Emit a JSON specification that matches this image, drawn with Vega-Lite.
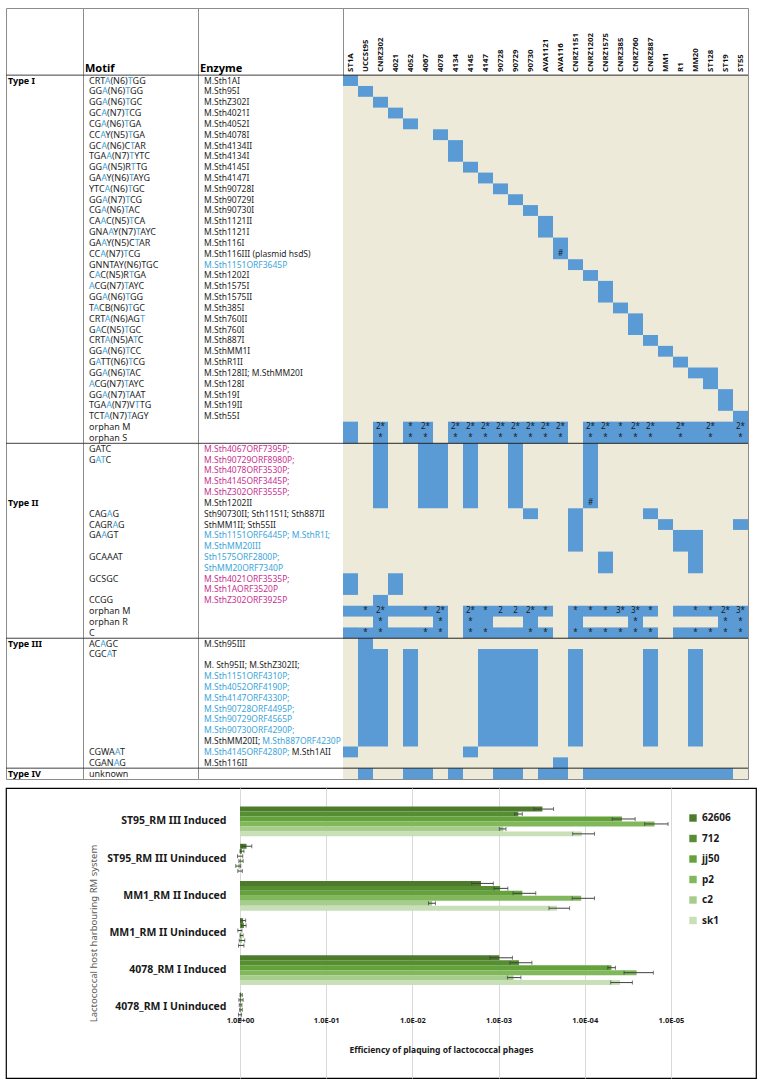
{
"$schema": "https://vega.github.io/schema/vega-lite/v6.json",
"padding": {"left": 5, "top": 7, "right": 4, "bottom": 3},
"background": "white",
"config": {"font": "Noto Sans", "view": {"stroke": "#8c8c8c", "strokeWidth": 1}},
"datasets": {
"bounds": [{"b": 0}, {"b": 34}, {"b": 52}, {"b": 64}],
"types": [{"l": 0, "t": "Type I"}, {"l": 39, "t": "Type II"}, {"l": 52, "t": "Type III"}, {"l": 64, "t": "Type IV"}],
"cols": [{"s":"ST1A"},{"s":"UCCSt95"},{"s":"CNRZ302"},{"s":"4021"},{"s":"4052"},{"s":"4067"},{"s":"4078"},{"s":"4134"},{"s":"4145"},{"s":"4147"},{"s":"90728"},{"s":"90729"},{"s":"90730"},{"s":"AVA1121"},{"s":"AVA116"},{"s":"CNRZ1151"},{"s":"CNRZ1202"},{"s":"CNRZ1575"},{"s":"CNRZ385"},{"s":"CNRZ760"},{"s":"CNRZ887"},{"s":"MM1"},{"s":"R1"},{"s":"MM20"},{"s":"ST128"},{"s":"ST19"},{"s":"ST55"}],
"rows": [
{"l":0,"m":"CRTA(N6)TGG","p1b":"CRT","p1a":"CRTA","p2b":"CRTA(N6)","p2a":"CRTA(N6)T","e":"M.Sth1AI","annot":"known"},
{"l":1,"m":"GGA(N6)TGG","p1b":"GG","p1a":"GGA","p2b":"GGA(N6)","p2a":"GGA(N6)T","e":"M.Sth95I","annot":"known"},
{"l":2,"m":"GGA(N6)TGC","p1b":"GG","p1a":"GGA","p2b":"GGA(N6)","p2a":"GGA(N6)T","e":"M.SthZ302I","annot":"known"},
{"l":3,"m":"GCA(N7)TCG","p1b":"GC","p1a":"GCA","p2b":"GCA(N7)","p2a":"GCA(N7)T","e":"M.Sth4021I","annot":"known"},
{"l":4,"m":"CGA(N6)TGA","p1b":"CG","p1a":"CGA","p2b":"CGA(N6)","p2a":"CGA(N6)T","e":"M.Sth4052I","annot":"known"},
{"l":5,"m":"CCAY(N5)TGA","p1b":"CC","p1a":"CCA","p2b":"CCAY(N5)","p2a":"CCAY(N5)T","e":"M.Sth4078I","annot":"known"},
{"l":6,"m":"GCA(N6)CTAR","p1b":"GC","p1a":"GCA","p2b":"GCA(N6)C","p2a":"GCA(N6)CT","e":"M.Sth4134II","annot":"known"},
{"l":7,"m":"TGAA(N7)TYTC","p1b":"TGA","p1a":"TGAA","p2b":"TGAA(N7)","p2a":"TGAA(N7)T","e":"M.Sth4134I","annot":"known"},
{"l":8,"m":"GGA(N5)RTTG","p1b":"GG","p1a":"GGA","p2b":"GGA(N5)R","p2a":"GGA(N5)RT","e":"M.Sth4145I","annot":"known"},
{"l":9,"m":"GAAY(N6)TAYG","p1b":"GA","p1a":"GAA","p2b":"GAAY(N6)","p2a":"GAAY(N6)T","e":"M.Sth4147I","annot":"known"},
{"l":10,"m":"YTCA(N6)TGC","p1b":"YTC","p1a":"YTCA","p2b":"YTCA(N6)","p2a":"YTCA(N6)T","e":"M.Sth90728I","annot":"known"},
{"l":11,"m":"GGA(N7)TCG","p1b":"GG","p1a":"GGA","p2b":"GGA(N7)","p2a":"GGA(N7)T","e":"M.Sth90729I","annot":"known"},
{"l":12,"m":"CGA(N6)TAC","p1b":"CG","p1a":"CGA","p2b":"CGA(N6)","p2a":"CGA(N6)T","e":"M.Sth90730I","annot":"known"},
{"l":13,"m":"CAAC(N5)TCA","p1b":"CA","p1a":"CAA","p2b":"CAAC(N5)","p2a":"CAAC(N5)T","e":"M.Sth1121II","annot":"known"},
{"l":14,"m":"GNAAY(N7)TAYC","p1b":"GNA","p1a":"GNAA","p2b":"GNAAY(N7)","p2a":"GNAAY(N7)T","e":"M.Sth1121I","annot":"known"},
{"l":15,"m":"GAAY(N5)CTAR","p1b":"GA","p1a":"GAA","p2b":"GAAY(N5)C","p2a":"GAAY(N5)CT","e":"M.Sth116I","annot":"known"},
{"l":16,"m":"CCA(N7)TCG","p1b":"CC","p1a":"CCA","p2b":"CCA(N7)","p2a":"CCA(N7)T","e":"M.Sth116III (plasmid hsdS)","annot":"known"},
{"l":17,"m":"GNNTAY(N6)TGC","e":"M.Sth1151ORF3645P","annot":"orf"},
{"l":18,"m":"CAC(N5)RTGA","p1b":"C","p1a":"CA","p2b":"CAC(N5)R","p2a":"CAC(N5)RT","e":"M.Sth1202I","annot":"known"},
{"l":19,"m":"ACG(N7)TAYC","p1a":"A","p2b":"ACG(N7)","p2a":"ACG(N7)T","e":"M.Sth1575I","annot":"known"},
{"l":20,"m":"GGA(N6)TGG","p1b":"GG","p1a":"GGA","p2b":"GGA(N6)","p2a":"GGA(N6)T","e":"M.Sth1575II","annot":"known"},
{"l":21,"m":"TACB(N6)TGC","p1b":"T","p1a":"TA","p2b":"TACB(N6)","p2a":"TACB(N6)T","e":"M.Sth385I","annot":"known"},
{"l":22,"m":"CRTA(N6)AGT","p1b":"CRT","p1a":"CRTA","p2b":"CRTA(N6)AG","p2a":"CRTA(N6)AGT","e":"M.Sth760II","annot":"known"},
{"l":23,"m":"GAC(N5)TGC","p1b":"G","p1a":"GA","p2b":"GAC(N5)","p2a":"GAC(N5)T","e":"M.Sth760I","annot":"known"},
{"l":24,"m":"CRTA(N5)ATC","p1b":"CRT","p1a":"CRTA","p2b":"CRTA(N5)A","p2a":"CRTA(N5)AT","e":"M.Sth887I","annot":"known"},
{"l":25,"m":"GGA(N6)TCC","p1b":"GG","p1a":"GGA","p2b":"GGA(N6)","p2a":"GGA(N6)T","e":"M.SthMM1I","annot":"known"},
{"l":26,"m":"GATT(N6)TCG","p1b":"G","p1a":"GA","p2b":"GATT(N6)","p2a":"GATT(N6)T","e":"M.SthR1II","annot":"known"},
{"l":27,"m":"GGA(N6)TAC","p1b":"GG","p1a":"GGA","p2b":"GGA(N6)","p2a":"GGA(N6)T","e":"M.Sth128II; M.SthMM20I","annot":"known"},
{"l":28,"m":"ACG(N7)TAYC","p1a":"A","p2b":"ACG(N7)","p2a":"ACG(N7)T","e":"M.Sth128I","annot":"known"},
{"l":29,"m":"GGA(N7)TAAT","p1b":"GG","p1a":"GGA","p2b":"GGA(N7)","p2a":"GGA(N7)T","e":"M.Sth19I","annot":"known"},
{"l":30,"m":"TGAA(N7)VTTG","p1b":"TGA","p1a":"TGAA","p2b":"TGAA(N7)V","p2a":"TGAA(N7)VT","e":"M.Sth19II","annot":"known"},
{"l":31,"m":"TCTA(N7)TAGY","p1b":"TCT","p1a":"TCTA","p2b":"TCTA(N7)","p2a":"TCTA(N7)T","e":"M.Sth55I","annot":"known"},
{"l":32,"m":"orphan M"},
{"l":33,"m":"orphan S"},
{"l":34,"m":"GATC","e":"M.Sth4067ORF7395P;","annot":"orfII"},
{"l":35,"m":"GATC","p1b":"G","p1a":"GA","p2b":"GA","p2a":"GAT","e":"M.Sth90729ORF8980P;","annot":"orfII"},
{"l":36,"e":"M.Sth4078ORF3530P;","annot":"orfII"},
{"l":37,"e":"M.Sth4145ORF3445P;","annot":"orfII"},
{"l":38,"e":"M.SthZ302ORF3555P;","annot":"orfII"},
{"l":39,"e":"M.Sth1202II","annot":"known"},
{"l":40,"m":"CAGAG","p1b":"CAG","p1a":"CAGA","e":"Sth90730II; Sth1151I; Sth887II","annot":"known"},
{"l":41,"m":"CAGRAG","p1b":"CAGR","p1a":"CAGRA","e":"SthMM1II; Sth55II","annot":"known"},
{"l":42,"m":"GAAGT","p1b":"GA","p1a":"GAA","e":"M.Sth1151ORF6445P; M.SthR1I;","annot":"orf"},
{"l":43,"e":"M.SthMM20III","annot":"orf"},
{"l":44,"m":"GCAAAT","e":"Sth1575ORF2800P;","annot":"orf"},
{"l":45,"e":"SthMM20ORF7340P","annot":"orf"},
{"l":46,"m":"GCSGC","e":"M.Sth4021ORF3535P;","annot":"orfII"},
{"l":47,"e":"M.Sth1AORF3520P","annot":"orfII"},
{"l":48,"m":"CCGG","e":"M.SthZ302ORF3925P","annot":"orfII"},
{"l":49,"m":"orphan M"},
{"l":50,"m":"orphan R"},
{"l":51,"m":"C"},
{"l":52,"m":"ACAGC","p1b":"AC","p1a":"ACA","e":"M.Sth95III","annot":"known"},
{"l":53,"m":"CGCAT","p1b":"CGC","p1a":"CGCA"},
{"l":54,"e":"M. Sth95II; M.SthZ302II;","annot":"known"},
{"l":55,"e":"M.Sth1151ORF4310P;","annot":"orf"},
{"l":56,"e":"M.Sth4052ORF4190P;","annot":"orf"},
{"l":57,"e":"M.Sth4147ORF4330P;","annot":"orf"},
{"l":58,"e":"M.Sth90728ORF4495P;","annot":"orf"},
{"l":59,"e":"M.Sth90729ORF4565P","annot":"orf"},
{"l":60,"e":"M.Sth90730ORF4290P;","annot":"orf"},
{"l":61,"e":"M.SthMM20II; M.Sth887ORF4230P","annot":"orf","eo":"M.SthMM20II;","eoa":"known"},
{"l":62,"m":"CGWAAT","p1b":"CGWA","p1a":"CGWAA","e":"M.Sth4145ORF4280P; M.Sth1AII","annot":"known","eo":"M.Sth4145ORF4280P;","eoa":"orf"},
{"l":63,"m":"CGANAG","p1b":"CGAN","p1a":"CGANA","e":"M.Sth116II","annot":"known"},
{"l":64,"m":"unknown"}
],
"cells": [
{"s":"ST1A","a":0,"b":1},{"s":"UCCSt95","a":1,"b":2},{"s":"CNRZ302","a":2,"b":3},{"s":"4021","a":3,"b":4},{"s":"4052","a":4,"b":5},{"s":"4078","a":5,"b":6},{"s":"4134","a":6,"b":8},{"s":"4145","a":8,"b":9},{"s":"4147","a":9,"b":10},{"s":"90728","a":10,"b":11},{"s":"90729","a":11,"b":12},{"s":"90730","a":12,"b":13},{"s":"AVA1121","a":13,"b":15},{"s":"AVA116","a":15,"b":17},{"s":"CNRZ1151","a":17,"b":18},{"s":"CNRZ1202","a":18,"b":19},{"s":"CNRZ1575","a":19,"b":21},{"s":"CNRZ385","a":21,"b":22},{"s":"CNRZ760","a":22,"b":24},{"s":"CNRZ887","a":24,"b":25},{"s":"MM1","a":25,"b":26},{"s":"R1","a":26,"b":27},{"s":"MM20","a":27,"b":28},{"s":"ST128","a":27,"b":29},{"s":"ST19","a":29,"b":31},{"s":"ST55","a":31,"b":34},
{"s":"ST1A","a":32,"b":34},{"s":"4052","a":32,"b":34},{"s":"4134","a":32,"b":34},{"s":"4147","a":32,"b":34},{"s":"90728","a":32,"b":34},{"s":"90730","a":32,"b":34},{"s":"AVA1121","a":32,"b":34},{"s":"AVA116","a":32,"b":34},{"s":"CNRZ1575","a":32,"b":34},{"s":"CNRZ385","a":32,"b":34},{"s":"CNRZ760","a":32,"b":34},{"s":"CNRZ887","a":32,"b":34},{"s":"MM1","a":32,"b":34},{"s":"R1","a":32,"b":34},{"s":"MM20","a":32,"b":34},{"s":"ST128","a":32,"b":34},{"s":"ST19","a":32,"b":34},
{"s":"CNRZ302","a":32,"b":40},{"s":"4067","a":32,"b":40},{"s":"4145","a":32,"b":40},{"s":"90729","a":32,"b":40},{"s":"CNRZ1202","a":32,"b":40},{"s":"4078","a":34,"b":40},
{"s":"90730","a":40,"b":41},{"s":"CNRZ887","a":40,"b":41},{"s":"CNRZ1151","a":40,"b":44},{"s":"MM1","a":41,"b":42},{"s":"ST55","a":41,"b":42},{"s":"R1","a":42,"b":44},{"s":"MM20","a":42,"b":46},{"s":"CNRZ1575","a":44,"b":46},{"s":"ST1A","a":46,"b":48},{"s":"4021","a":46,"b":48},{"s":"CNRZ302","a":48,"b":52},
{"s":"ST1A","a":49,"b":50},{"s":"ST1A","a":51,"b":52},{"s":"UCCSt95","a":49,"b":50},{"s":"UCCSt95","a":51,"b":62},{"s":"4021","a":49,"b":50},{"s":"4021","a":51,"b":52},{"s":"4052","a":49,"b":50},{"s":"4052","a":51,"b":52},{"s":"4067","a":49,"b":50},{"s":"4067","a":51,"b":52},{"s":"4078","a":49,"b":52},{"s":"4145","a":49,"b":52},{"s":"4147","a":49,"b":52},{"s":"90728","a":49,"b":50},{"s":"90728","a":51,"b":52},{"s":"90729","a":49,"b":50},{"s":"90729","a":51,"b":52},{"s":"90730","a":49,"b":52},{"s":"AVA1121","a":49,"b":50},{"s":"AVA1121","a":51,"b":52},{"s":"CNRZ1151","a":49,"b":52},{"s":"CNRZ1202","a":49,"b":50},{"s":"CNRZ1202","a":51,"b":52},{"s":"CNRZ1575","a":49,"b":50},{"s":"CNRZ1575","a":51,"b":52},{"s":"CNRZ385","a":49,"b":50},{"s":"CNRZ385","a":51,"b":52},{"s":"CNRZ760","a":49,"b":52},{"s":"CNRZ887","a":49,"b":50},{"s":"CNRZ887","a":51,"b":52},{"s":"R1","a":49,"b":50},{"s":"R1","a":51,"b":52},{"s":"MM20","a":49,"b":50},{"s":"MM20","a":51,"b":52},{"s":"ST128","a":49,"b":50},{"s":"ST128","a":51,"b":52},{"s":"ST19","a":49,"b":52},{"s":"ST55","a":49,"b":52},
{"s":"CNRZ302","a":53,"b":62},{"s":"4052","a":53,"b":62},{"s":"4147","a":53,"b":62},{"s":"90728","a":53,"b":62},{"s":"90729","a":53,"b":62},{"s":"90730","a":53,"b":62},{"s":"CNRZ1151","a":53,"b":62},{"s":"CNRZ887","a":53,"b":62},{"s":"MM20","a":53,"b":62},
{"s":"ST1A","a":62,"b":63},{"s":"4145","a":62,"b":63},{"s":"AVA116","a":63,"b":65},
{"s":"UCCSt95","a":64,"b":65},{"s":"4052","a":64,"b":65},{"s":"4067","a":64,"b":65},{"s":"4134","a":64,"b":65},{"s":"90728","a":64,"b":65},{"s":"90729","a":64,"b":65},{"s":"AVA1121","a":64,"b":65},{"s":"CNRZ1202","a":64,"b":65},{"s":"CNRZ1575","a":64,"b":65},{"s":"CNRZ385","a":64,"b":65},{"s":"CNRZ760","a":64,"b":65},{"s":"CNRZ887","a":64,"b":65},{"s":"MM1","a":64,"b":65},{"s":"R1","a":64,"b":65},{"s":"MM20","a":64,"b":65},{"s":"ST128","a":64,"b":65},{"s":"ST19","a":64,"b":65}
],
"marks": [
{"s":"CNRZ302","l":32,"t":"2*"},{"s":"4052","l":32,"t":"*"},{"s":"4067","l":32,"t":"2*"},{"s":"4134","l":32,"t":"2*"},{"s":"4145","l":32,"t":"2*"},{"s":"4147","l":32,"t":"2*"},{"s":"90728","l":32,"t":"2*"},{"s":"90729","l":32,"t":"2*"},{"s":"90730","l":32,"t":"2*"},{"s":"AVA1121","l":32,"t":"2*"},{"s":"AVA116","l":32,"t":"2*"},{"s":"CNRZ1202","l":32,"t":"2*"},{"s":"CNRZ1575","l":32,"t":"2*"},{"s":"CNRZ385","l":32,"t":"*"},{"s":"CNRZ760","l":32,"t":"2*"},{"s":"CNRZ887","l":32,"t":"2*"},{"s":"R1","l":32,"t":"2*"},{"s":"ST128","l":32,"t":"2*"},{"s":"ST55","l":32,"t":"2*"},
{"s":"CNRZ302","l":33,"t":"*"},{"s":"4052","l":33,"t":"*"},{"s":"4067","l":33,"t":"*"},{"s":"4134","l":33,"t":"*"},{"s":"4145","l":33,"t":"*"},{"s":"4147","l":33,"t":"*"},{"s":"90728","l":33,"t":"*"},{"s":"90729","l":33,"t":"*"},{"s":"90730","l":33,"t":"*"},{"s":"AVA1121","l":33,"t":"*"},{"s":"AVA116","l":33,"t":"*"},{"s":"CNRZ1202","l":33,"t":"*"},{"s":"CNRZ1575","l":33,"t":"*"},{"s":"CNRZ385","l":33,"t":"*"},{"s":"CNRZ760","l":33,"t":"*"},{"s":"CNRZ887","l":33,"t":"*"},{"s":"R1","l":33,"t":"*"},{"s":"ST128","l":33,"t":"*"},{"s":"ST55","l":33,"t":"*"},
{"s":"AVA116","l":16,"t":"#"},{"s":"CNRZ1202","l":39,"t":"#"},
{"s":"UCCSt95","l":49,"t":"*"},{"s":"CNRZ302","l":49,"t":"2*"},{"s":"4067","l":49,"t":"*"},{"s":"4078","l":49,"t":"2*"},{"s":"4145","l":49,"t":"2*"},{"s":"4147","l":49,"t":"*"},{"s":"90728","l":49,"t":"2"},{"s":"90729","l":49,"t":"2"},{"s":"90730","l":49,"t":"2*"},{"s":"AVA1121","l":49,"t":"*"},{"s":"CNRZ1151","l":49,"t":"*"},{"s":"CNRZ1202","l":49,"t":"*"},{"s":"CNRZ1575","l":49,"t":"*"},{"s":"CNRZ385","l":49,"t":"3*"},{"s":"CNRZ760","l":49,"t":"3*"},{"s":"CNRZ887","l":49,"t":"*"},{"s":"MM20","l":49,"t":"*"},{"s":"ST128","l":49,"t":"*"},{"s":"ST19","l":49,"t":"2*"},{"s":"ST55","l":49,"t":"3*"},
{"s":"CNRZ302","l":50,"t":"*"},{"s":"4078","l":50,"t":"*"},{"s":"4145","l":50,"t":"*"},{"s":"CNRZ760","l":50,"t":"*"},{"s":"ST19","l":50,"t":"*"},{"s":"ST55","l":50,"t":"*"},
{"s":"UCCSt95","l":51,"t":"*"},{"s":"CNRZ302","l":51,"t":"*"},{"s":"4067","l":51,"t":"*"},{"s":"4078","l":51,"t":"*"},{"s":"4145","l":51,"t":"*"},{"s":"4147","l":51,"t":"*"},{"s":"90730","l":51,"t":"*"},{"s":"AVA1121","l":51,"t":"*"},{"s":"CNRZ1151","l":51,"t":"*"},{"s":"CNRZ1202","l":51,"t":"*"},{"s":"CNRZ1575","l":51,"t":"*"},{"s":"CNRZ385","l":51,"t":"*"},{"s":"CNRZ760","l":51,"t":"*"},{"s":"CNRZ887","l":51,"t":"*"},{"s":"MM20","l":51,"t":"*"},{"s":"ST128","l":51,"t":"*"},{"s":"ST19","l":51,"t":"*"},{"s":"ST55","l":51,"t":"*"}
],
"eop": [
{"host":"ST95_RM III Induced","phage":"62606","v":3.1e-4,"lo":2.3e-4,"hi":3.9e-4},
{"host":"ST95_RM III Induced","phage":"712","v":5.9e-4,"lo":5.3e-4,"hi":6.5e-4},
{"host":"ST95_RM III Induced","phage":"jj50","v":3.7e-5,"lo":2.6e-5,"hi":4.8e-5},
{"host":"ST95_RM III Induced","phage":"p2","v":1.55e-5,"lo":1.08e-5,"hi":2.02e-5},
{"host":"ST95_RM III Induced","phage":"c2","v":8.8e-4,"lo":8.2e-4,"hi":9.8e-4},
{"host":"ST95_RM III Induced","phage":"sk1","v":1.08e-4,"lo":7.7e-5,"hi":1.38e-4},
{"host":"ST95_RM III Uninduced","phage":"62606","v":0.84,"lo":0.73,"hi":0.95},
{"host":"ST95_RM III Uninduced","phage":"712","v":0.95,"lo":0.9,"hi":1.0},
{"host":"ST95_RM III Uninduced","phage":"jj50","v":1.0,"lo":0.93,"hi":1.07},
{"host":"ST95_RM III Uninduced","phage":"p2","v":0.97,"lo":0.92,"hi":1.03},
{"host":"ST95_RM III Uninduced","phage":"c2","v":1.05,"lo":0.98,"hi":1.12},
{"host":"ST95_RM III Uninduced","phage":"sk1","v":1.0,"lo":0.94,"hi":1.06},
{"host":"MM1_RM II Induced","phage":"62606","v":1.6e-3,"lo":1.15e-3,"hi":2.05e-3},
{"host":"MM1_RM II Induced","phage":"712","v":9.6e-4,"lo":7.8e-4,"hi":1.13e-3},
{"host":"MM1_RM II Induced","phage":"jj50","v":5.3e-4,"lo":3.7e-4,"hi":6.8e-4},
{"host":"MM1_RM II Induced","phage":"p2","v":1.1e-4,"lo":7.7e-5,"hi":1.4e-4},
{"host":"MM1_RM II Induced","phage":"c2","v":5.9e-3,"lo":5.4e-3,"hi":6.5e-3},
{"host":"MM1_RM II Induced","phage":"sk1","v":2.1e-4,"lo":1.5e-4,"hi":2.6e-4},
{"host":"MM1_RM II Uninduced","phage":"62606","v":0.92,"lo":0.86,"hi":0.98},
{"host":"MM1_RM II Uninduced","phage":"712","v":0.9,"lo":0.85,"hi":0.96},
{"host":"MM1_RM II Uninduced","phage":"jj50","v":1.0,"lo":0.95,"hi":1.06},
{"host":"MM1_RM II Uninduced","phage":"p2","v":0.96,"lo":0.92,"hi":1.0},
{"host":"MM1_RM II Uninduced","phage":"c2","v":0.95,"lo":0.88,"hi":1.02},
{"host":"MM1_RM II Uninduced","phage":"sk1","v":0.97,"lo":0.9,"hi":1.04},
{"host":"4078_RM I Induced","phage":"62606","v":9.8e-4,"lo":6.9e-4,"hi":1.26e-3},
{"host":"4078_RM I Induced","phage":"712","v":5.8e-4,"lo":4.1e-4,"hi":7.4e-4},
{"host":"4078_RM I Induced","phage":"jj50","v":4.9e-5,"lo":4.4e-5,"hi":5.4e-5},
{"host":"4078_RM I Induced","phage":"p2","v":2.5e-5,"lo":1.6e-5,"hi":3.5e-5},
{"host":"4078_RM I Induced","phage":"c2","v":6.7e-4,"lo":5.5e-4,"hi":7.9e-4},
{"host":"4078_RM I Induced","phage":"sk1","v":3.9e-5,"lo":2.8e-5,"hi":5.0e-5},
{"host":"4078_RM I Uninduced","phage":"62606","v":0.97,"lo":0.94,"hi":1.0},
{"host":"4078_RM I Uninduced","phage":"712","v":0.97,"lo":0.92,"hi":1.03},
{"host":"4078_RM I Uninduced","phage":"jj50","v":0.98,"lo":0.95,"hi":1.02},
{"host":"4078_RM I Uninduced","phage":"p2","v":0.97,"lo":0.94,"hi":1.01},
{"host":"4078_RM I Uninduced","phage":"c2","v":1.0,"lo":0.96,"hi":1.04},
{"host":"4078_RM I Uninduced","phage":"sk1","v":1.0,"lo":0.97,"hi":1.03}
]
},
"spacing": 7,
"resolve": {"scale": {"x": "independent", "y": "independent", "color": "independent"}},
"vconcat": [
{
"hconcat": [
{
"width": 77, "height": 771,
"layer": [
{"data": {"name": "bounds"}, "mark": {"type": "rule", "color": "#404040"}, "encoding": {"y": {"field": "b", "type": "quantitative", "scale": {"domain": [-6.2, 65], "reverse": true, "nice": false, "zero": false}, "axis": null}}},
{"data": {"name": "types"}, "mark": {"type": "text", "align": "left", "baseline": "middle", "dx": 2, "dy": 5.4, "fontSize": 9, "fontWeight": "bold", "color": "#000000"},
 "encoding": {"x": {"datum": 0, "type": "quantitative", "scale": {"domain": [0, 1]}, "axis": null}, "y": {"field": "l", "type": "quantitative", "scale": {"domain": [-6.2, 65], "reverse": true, "nice": false, "zero": false}, "axis": null}, "text": {"field": "t", "type": "nominal"}}}
]
},
{
"width": 115, "height": 771,
"encoding": {"x": {"datum": 0, "type": "quantitative", "scale": {"domain": [0, 1]}, "axis": null}},
"layer": [
{"data": {"name": "bounds"}, "mark": {"type": "rule", "color": "#404040"}, "encoding": {"x": null, "y": {"field": "b", "type": "quantitative", "scale": {"domain": [-6.2, 65], "reverse": true, "nice": false, "zero": false}, "axis": null}}},
{"data": {"name": "rows"}, "transform": [{"filter": "datum.m"}], "mark": {"type": "text", "align": "left", "baseline": "middle", "dx": 6, "dy": 5.4, "fontSize": 9, "color": "#1f1f1f"},
 "encoding": {"y": {"field": "l", "type": "quantitative", "scale": {"domain": [-6.2, 65], "reverse": true, "nice": false, "zero": false}, "axis": null}, "text": {"field": "m", "type": "nominal"}}},
{"data": {"name": "rows"}, "transform": [{"filter": "datum.p2a"}], "mark": {"type": "text", "align": "left", "baseline": "middle", "dx": 6, "dy": 5.4, "fontSize": 9, "color": "#ffffff", "stroke": "#ffffff", "strokeWidth": 1.3},
 "encoding": {"y": {"field": "l", "type": "quantitative", "scale": {"domain": [-6.2, 65], "reverse": true, "nice": false, "zero": false}, "axis": null}, "text": {"field": "p2a", "type": "nominal"}}},
{"data": {"name": "rows"}, "transform": [{"filter": "datum.p2a"}], "mark": {"type": "text", "align": "left", "baseline": "middle", "dx": 6, "dy": 5.4, "fontSize": 9, "color": "#3DA5DA"},
 "encoding": {"y": {"field": "l", "type": "quantitative", "scale": {"domain": [-6.2, 65], "reverse": true, "nice": false, "zero": false}, "axis": null}, "text": {"field": "p2a", "type": "nominal"}}},
{"data": {"name": "rows"}, "transform": [{"filter": "datum.p2b"}], "mark": {"type": "text", "align": "left", "baseline": "middle", "dx": 6, "dy": 5.4, "fontSize": 9, "color": "#ffffff", "stroke": "#ffffff", "strokeWidth": 1.3},
 "encoding": {"y": {"field": "l", "type": "quantitative", "scale": {"domain": [-6.2, 65], "reverse": true, "nice": false, "zero": false}, "axis": null}, "text": {"field": "p2b", "type": "nominal"}}},
{"data": {"name": "rows"}, "transform": [{"filter": "datum.p2b"}], "mark": {"type": "text", "align": "left", "baseline": "middle", "dx": 6, "dy": 5.4, "fontSize": 9, "color": "#1f1f1f"},
 "encoding": {"y": {"field": "l", "type": "quantitative", "scale": {"domain": [-6.2, 65], "reverse": true, "nice": false, "zero": false}, "axis": null}, "text": {"field": "p2b", "type": "nominal"}}},
{"data": {"name": "rows"}, "transform": [{"filter": "datum.p1a"}], "mark": {"type": "text", "align": "left", "baseline": "middle", "dx": 6, "dy": 5.4, "fontSize": 9, "color": "#ffffff", "stroke": "#ffffff", "strokeWidth": 1.3},
 "encoding": {"y": {"field": "l", "type": "quantitative", "scale": {"domain": [-6.2, 65], "reverse": true, "nice": false, "zero": false}, "axis": null}, "text": {"field": "p1a", "type": "nominal"}}},
{"data": {"name": "rows"}, "transform": [{"filter": "datum.p1a"}], "mark": {"type": "text", "align": "left", "baseline": "middle", "dx": 6, "dy": 5.4, "fontSize": 9, "color": "#3DA5DA"},
 "encoding": {"y": {"field": "l", "type": "quantitative", "scale": {"domain": [-6.2, 65], "reverse": true, "nice": false, "zero": false}, "axis": null}, "text": {"field": "p1a", "type": "nominal"}}},
{"data": {"name": "rows"}, "transform": [{"filter": "datum.p1b"}], "mark": {"type": "text", "align": "left", "baseline": "middle", "dx": 6, "dy": 5.4, "fontSize": 9, "color": "#ffffff", "stroke": "#ffffff", "strokeWidth": 1.3},
 "encoding": {"y": {"field": "l", "type": "quantitative", "scale": {"domain": [-6.2, 65], "reverse": true, "nice": false, "zero": false}, "axis": null}, "text": {"field": "p1b", "type": "nominal"}}},
{"data": {"name": "rows"}, "transform": [{"filter": "datum.p1b"}], "mark": {"type": "text", "align": "left", "baseline": "middle", "dx": 6, "dy": 5.4, "fontSize": 9, "color": "#1f1f1f"},
 "encoding": {"y": {"field": "l", "type": "quantitative", "scale": {"domain": [-6.2, 65], "reverse": true, "nice": false, "zero": false}, "axis": null}, "text": {"field": "p1b", "type": "nominal"}}},
{"data": {"values": [{}]}, "mark": {"type": "text", "text": "Motif", "align": "left", "baseline": "alphabetic", "dx": 2, "fontSize": 11, "fontWeight": "bold", "color": "#000000"},
 "encoding": {"y": {"datum": -0.25, "type": "quantitative", "scale": {"domain": [-6.2, 65], "reverse": true, "nice": false, "zero": false}, "axis": null}}}
]
},
{
"width": 145, "height": 771,
"encoding": {"x": {"datum": 0, "type": "quantitative", "scale": {"domain": [0, 1]}, "axis": null}},
"layer": [
{"data": {"name": "bounds"}, "mark": {"type": "rule", "color": "#404040"}, "encoding": {"x": null, "y": {"field": "b", "type": "quantitative", "scale": {"domain": [-6.2, 65], "reverse": true, "nice": false, "zero": false}, "axis": null}}},
{"data": {"name": "rows"}, "transform": [{"filter": "datum.e"}], "mark": {"type": "text", "align": "left", "baseline": "middle", "dx": 6, "dy": 5.4, "fontSize": 8.5},
 "encoding": {"y": {"field": "l", "type": "quantitative", "scale": {"domain": [-6.2, 65], "reverse": true, "nice": false, "zero": false}, "axis": null}, "text": {"field": "e", "type": "nominal"},
  "color": {"field": "annot", "type": "nominal", "scale": {"domain": ["known", "orf", "orfII"], "range": ["#1f1f1f", "#3DA5DA", "#C8318F"]}, "legend": null}}},
{"data": {"name": "rows"}, "transform": [{"filter": "datum.eo"}], "mark": {"type": "text", "align": "left", "baseline": "middle", "dx": 6, "dy": 5.4, "fontSize": 8.5, "color": "#ffffff", "stroke": "#ffffff", "strokeWidth": 1.3},
 "encoding": {"y": {"field": "l", "type": "quantitative", "scale": {"domain": [-6.2, 65], "reverse": true, "nice": false, "zero": false}, "axis": null}, "text": {"field": "eo", "type": "nominal"}}},
{"data": {"name": "rows"}, "transform": [{"filter": "datum.eo"}], "mark": {"type": "text", "align": "left", "baseline": "middle", "dx": 6, "dy": 5.4, "fontSize": 8.5},
 "encoding": {"y": {"field": "l", "type": "quantitative", "scale": {"domain": [-6.2, 65], "reverse": true, "nice": false, "zero": false}, "axis": null}, "text": {"field": "eo", "type": "nominal"},
  "color": {"field": "eoa", "type": "nominal", "scale": {"domain": ["known", "orf", "orfII"], "range": ["#1f1f1f", "#3DA5DA", "#C8318F"]}, "legend": null}}},
{"data": {"values": [{}]}, "mark": {"type": "text", "text": "Enzyme", "align": "left", "baseline": "alphabetic", "dx": 2, "fontSize": 11, "fontWeight": "bold", "color": "#000000"},
 "encoding": {"y": {"datum": -0.25, "type": "quantitative", "scale": {"domain": [-6.2, 65], "reverse": true, "nice": false, "zero": false}, "axis": null}}}
]
},
{
"width": 405, "height": 771,
"layer": [
{"data": {"values": [{}]}, "mark": {"type": "rect", "color": "#EEEAD9"},
 "encoding": {"y": {"datum": 0, "type": "quantitative", "scale": {"domain": [-6.2, 65], "reverse": true, "nice": false, "zero": false}, "axis": null}, "y2": {"datum": 65}}},
{"data": {"name": "cells"}, "mark": {"type": "rect", "color": "#5B9BD5"},
 "encoding": {"x": {"field": "s", "type": "nominal", "scale": {"domain": ["ST1A","UCCSt95","CNRZ302","4021","4052","4067","4078","4134","4145","4147","90728","90729","90730","AVA1121","AVA116","CNRZ1151","CNRZ1202","CNRZ1575","CNRZ385","CNRZ760","CNRZ887","MM1","R1","MM20","ST128","ST19","ST55"], "paddingInner": 0, "paddingOuter": 0}, "axis": null},
  "y": {"field": "a", "type": "quantitative", "scale": {"domain": [-6.2, 65], "reverse": true, "nice": false, "zero": false}, "axis": null}, "y2": {"field": "b"}}},
{"data": {"name": "marks"}, "mark": {"type": "text", "baseline": "middle", "dy": 5.4, "fontSize": 8, "color": "#1a1a1a"},
 "encoding": {"x": {"field": "s", "type": "nominal", "axis": null}, "y": {"field": "l", "type": "quantitative", "scale": {"domain": [-6.2, 65], "reverse": true, "nice": false, "zero": false}, "axis": null}, "text": {"field": "t", "type": "nominal"}}},
{"data": {"name": "bounds"}, "mark": {"type": "rule", "color": "#262626"}, "encoding": {"y": {"field": "b", "type": "quantitative", "scale": {"domain": [-6.2, 65], "reverse": true, "nice": false, "zero": false}, "axis": null}}},
{"data": {"name": "cols"}, "mark": {"type": "text", "angle": 270, "align": "left", "baseline": "middle", "fontSize": 7.8, "fontWeight": "bold", "color": "#111111"},
 "encoding": {"x": {"field": "s", "type": "nominal", "axis": null}, "y": {"datum": -0.3, "type": "quantitative", "scale": {"domain": [-6.2, 65], "reverse": true, "nice": false, "zero": false}, "axis": null}, "text": {"field": "s", "type": "nominal"}}}
]
}
],
"spacing": 0,
"bounds": "flush",
"resolve": {"scale": {"x": "independent", "y": "independent", "color": "independent"}}
},
{
"width": 750, "height": 290,
"view": {"stroke": "#000000", "strokeWidth": 1.2},
"data": {"name": "eop"},
"encoding": {
 "y": {"field": "host", "type": "nominal", "sort": ["ST95_RM III Induced", "ST95_RM III Uninduced", "MM1_RM II Induced", "MM1_RM II Uninduced", "4078_RM I Induced", "4078_RM I Uninduced"],
  "scale": {"paddingInner": 0.2, "paddingOuter": 1.315, "align": 0.25},
  "axis": {"title": "Lactococcal host  harbouring RM system", "offset": -224, "ticks": false, "domain": false, "labelPadding": 4, "labelFontSize": 10.5, "labelFontWeight": "bold", "labelColor": "#1a1a1a", "titleFontSize": 9.5, "titleFontWeight": "normal", "titleColor": "#595959", "titlePadding": 8}},
 "yOffset": {"field": "phage", "type": "nominal", "sort": ["62606", "712", "jj50", "p2", "c2", "sk1"], "scale": {"paddingInner": 0, "paddingOuter": 0}}
},
"layer": [
{"mark": {"type": "bar"},
 "encoding": {
  "x": {"field": "v", "type": "quantitative", "scale": {"type": "log", "domain": [1.03e-6, 519], "reverse": true, "nice": false},
   "axis": {"title": "Efficiency of plaquing of lactococcal phages", "values": [1, 0.1, 0.01, 0.001, 0.0001, 0.00001],
    "labelExpr": "datum.value >= 1 ? '1.0E+00' : '1.0E-0' + format(-log(datum.value)/LN10, '.0f')",
    "offset": -65, "grid": true, "gridColor": "#D9D9D9", "domain": false, "ticks": false, "labelPadding": 3, "labelFontSize": 7.5, "labelFontWeight": "bold", "labelColor": "#1a1a1a",
    "titleFontSize": 8.5, "titleFontWeight": "bold", "titleColor": "#1a1a1a", "titlePadding": 22, "titleX": 435}},
  "x2": {"datum": 1},
  "color": {"field": "phage", "type": "nominal", "sort": ["62606", "712", "jj50", "p2", "c2", "sk1"],
   "scale": {"domain": ["62606", "712", "jj50", "p2", "c2", "sk1"], "range": ["#4D7B2C", "#578D33", "#64A23C", "#82B85C", "#A7CD8D", "#C8DFB7"]},
   "legend": {"orient": "top-right", "offset": 25, "title": null, "symbolType": "square", "symbolSize": 55, "symbolStrokeWidth": 0, "labelFontSize": 10, "labelFontWeight": "bold", "labelColor": "#1a1a1a", "rowPadding": 10.5}}
 }},
{"mark": {"type": "rule", "color": "#404040", "strokeWidth": 1},
 "encoding": {"x": {"field": "lo", "type": "quantitative"}, "x2": {"field": "hi"}}},
{"mark": {"type": "tick", "color": "#404040", "thickness": 1, "size": 4},
 "encoding": {"x": {"field": "lo", "type": "quantitative"}}},
{"mark": {"type": "tick", "color": "#404040", "thickness": 1, "size": 4},
 "encoding": {"x": {"field": "hi", "type": "quantitative"}}}
]
}
]
}
